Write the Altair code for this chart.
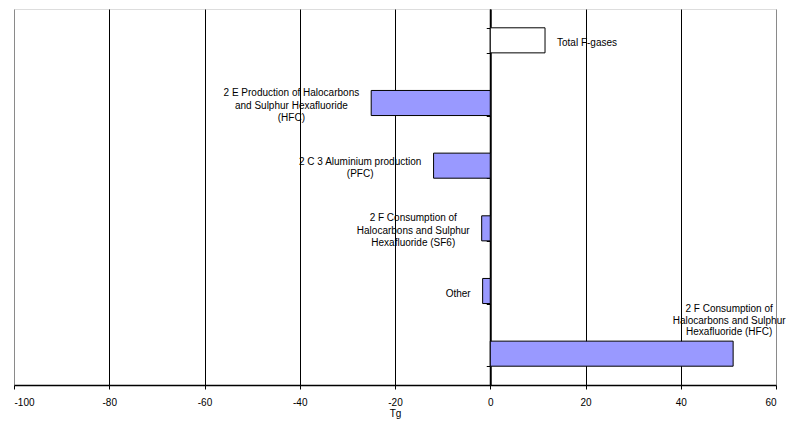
import altair as alt
import pandas as pd

# ---- data ----
categories = [
    "Total F-gases",
    "2E HFC",
    "2C3 PFC",
    "2F SF6",
    "Other",
    "2F HFC",
]
labels = [
    "Total F-gases",
    "2 E Production of Halocarbons\nand Sulphur Hexafluoride\n(HFC)",
    "2 C 3 Aluminium production\n(PFC)",
    "2 F Consumption of\nHalocarbons and Sulphur\nHexafluoride (SF6)",
    "Other",
    "2 F Consumption of\nHalocarbons and Sulphur\nHexafluoride (HFC)",
]
values = [11.5, -25.0, -11.9, -1.8, -1.6, 51.0]
x_ticks = [-100, -80, -60, -40, -20, 0, 20, 40, 60]
x_min, x_max = -100, 60

# ---- layout / style ----
W, H = 762, 376
FONT = "Liberation Sans"
FS = 10
ppu = W / (x_max - x_min)  # pixels per unit

_cw = {" ": 278, "-": 333, "(": 333, ")": 333, "A": 667, "C": 722, "E": 667,
       "F": 611, "H": 722, "O": 778, "P": 667, "S": 667, "T": 611, "a": 556,
       "b": 556, "c": 500, "d": 556, "e": 556, "f": 278, "g": 556, "h": 556,
       "i": 222, "l": 222, "m": 833, "n": 556, "o": 556, "p": 556, "r": 333,
       "s": 500, "t": 278, "u": 556, "x": 500}


def text_width(s):
    return max(sum(_cw.get(c, 556) for c in line) for line in s.split("\n")) * FS / 1000


rows = []
for i, (c, lab, v) in enumerate(zip(categories, labels, values)):
    if i == 0:
        kind, align = "total", "left"
        lx = v + 12 / ppu
    elif v < 0:
        kind, align = "neg", "center"
        lx = v - (12 + text_width(lab) / 2) / ppu
    else:
        kind, align = "pos", "center"
        lx = v - 4 / ppu
    rows.append({"category": c, "label": lab, "value": v, "kind": kind,
                 "align": align, "nlines": lab.count("\n") + 1, "label_x": lx})
df = pd.DataFrame(rows)

xscale = alt.Scale(domain=[x_min, x_max], nice=False, zero=False)
yscale = alt.Scale(paddingInner=0.6, paddingOuter=0.3)

x_axis = alt.Axis(
    values=x_ticks,
    labelExpr="'' + datum.value",
    grid=True,
    gridColor={"expr": "datum.value == -100 || datum.value == 60 ? '#8a8a8a' : '#000000'"},
    gridWidth=1,
    domainColor="#000000",
    domainWidth=1.5,
    tickColor="#000000",
    tickSize=4,
    labelPadding=8,
    labelFont=FONT,
    labelFontSize=FS,
    labelColor="#000000",
    title="Tg",
    titleFont=FONT,
    titleFontSize=FS,
    titleFontWeight="normal",
    titleColor="#000000",
    titlePadding=1,
)

y_axis = alt.Axis(
    orient="left",
    offset=-(0 - x_min) * ppu,
    labels=False,
    title=None,
    tickBand="extent",
    tickSize=4,
    tickColor="#000000",
    domainColor="#000000",
    domainWidth=2,
    grid=False,
)

base = alt.Chart(df)

bars = base.mark_bar(stroke="#000000", strokeWidth=1).encode(
    x=alt.X("value:Q", scale=xscale, axis=x_axis),
    x2=alt.datum(0),
    y=alt.Y("category:N", sort=categories, scale=yscale, axis=y_axis),
    fill=alt.Fill(
        "kind:N",
        scale=alt.Scale(domain=["total", "neg", "pos"], range=["#ffffff", "#9999ff", "#9999ff"]),
        legend=None,
    ),
)

layers = [bars]
for (kind, align, n), _g in df.groupby(["kind", "align", "nlines"]):
    lh = 11.5 if kind == "pos" else 12.5
    centre_shift = -33 if kind == "pos" else 2.5
    dy = centre_shift - (n - 1) * lh / 2
    layers.append(
        base.transform_filter(
            (alt.datum.kind == kind) & (alt.datum.nlines == int(n))
        ).mark_text(
            align=align, baseline="middle", dy=dy, lineHeight=lh, lineBreak="\n",
            font=FONT, fontSize=FS, color="#000000",
        ).encode(
            x=alt.X("label_x:Q", scale=xscale),
            y=alt.Y("category:N", sort=categories, scale=yscale),
            text="label:N",
        )
    )

chart = (
    alt.layer(*layers)
    .properties(
        width=W,
        height=H,
        autosize=alt.AutoSizeParams(type="none"),
        padding={"left": 6, "top": 1, "right": 11, "bottom": 35},
    )
    .configure_view(stroke="#8a8a8a", strokeWidth=1.5)
    .configure(background="#ffffff")
)

chart.save("out.html", embed_options={"renderer": "svg", "actions": False})
